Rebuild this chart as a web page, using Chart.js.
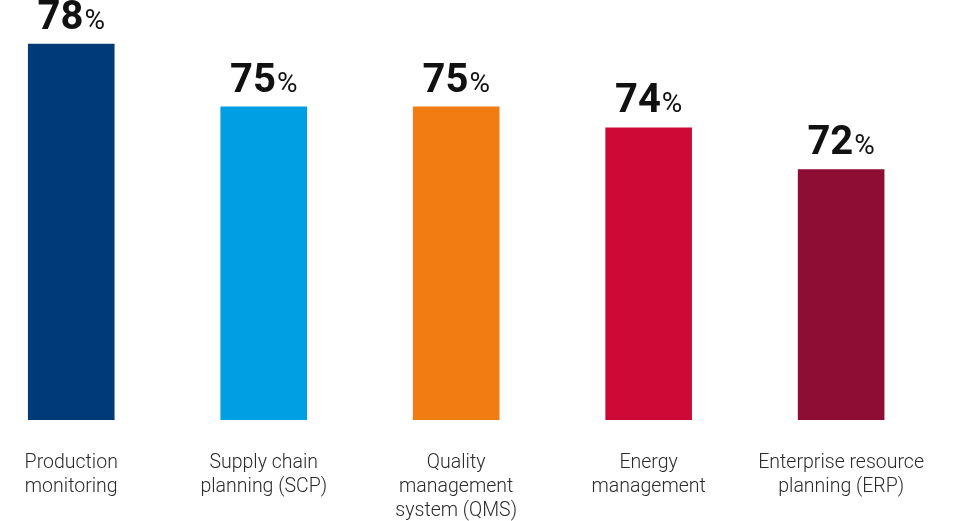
<!DOCTYPE html>
<html>
<head>
  <title>Share of respondents by system</title>
  <script src="https://cdn.jsdelivr.net/npm/chart.js"></script>
  <style>
    html, body {
      margin: 0;
      padding: 0;
      background-color: #fff;
      overflow: hidden;
    }

    .chart-box {
      position: absolute;
      left: -25px;
      top: 0;
      width: 980px;
      height: 521px;
    }
  </style>
</head>
<body>
  <div class="chart-box">
    <canvas id="systemsChart"></canvas>
  </div>

  <script>
    const categories = [
      ['Production', 'monitoring'],
      ['Supply chain', 'planning (SCP)'],
      ['Quality', 'management', 'system (QMS)'],
      ['Energy', 'management'],
      ['Enterprise resource', 'planning (ERP)']
    ];
    const shares = [78, 75, 75, 74, 72];
    const barColors = ['#003b78', '#009fe3', '#f07c12', '#cd0a36', '#8d0d34'];

    // draws the big "78%" labels above each bar
    const valueLabels = {
      id: 'valueLabels',
      afterDatasetsDraw(chart) {
        const ctx = chart.ctx;
        const meta = chart.getDatasetMeta(0);
        ctx.save();
        ctx.fillStyle = '#111';
        ctx.textBaseline = 'alphabetic';
        ctx.textAlign = 'left';
        meta.data.forEach((bar, i) => {
          const num = String(shares[i]);
          ctx.font = 'bold 40px Roboto';
          const w1 = ctx.measureText(num).width;
          ctx.font = '400 28px Roboto';
          const w2 = ctx.measureText('%').width;
          const x = bar.x - (w1 + w2 + 1) / 2;
          const y = bar.y - 15;
          ctx.font = 'bold 40px Roboto';
          ctx.fillText(num, x, y);
          ctx.font = '400 28px Roboto';
          ctx.fillText('%', x + w1 + 1, y);
        });
        ctx.restore();
      }
    };

    const ctx = document.getElementById('systemsChart').getContext('2d');
    const chart = new Chart(ctx, {
      type: 'bar',
      data: {
        labels: categories,
        datasets: [{
          data: shares,
          backgroundColor: barColors,
          barPercentage: 0.9,
          categoryPercentage: 0.5
        }]
      },
      options: {
        responsive: true,
        maintainAspectRatio: false,
        animation: false,
        layout: { padding: { top: 2, left: 0, right: 0, bottom: 0 } },
        plugins: {
          legend: { display: false },
          tooltip: { enabled: false }
        },
        scales: {
          x: {
            grid: { display: false, drawTicks: false },
            border: { display: false },
            ticks: {
              autoSkip: false,
              maxRotation: 0,
              padding: 31,
              color: '#2a2a2a',
              font: { family: 'Roboto', size: 19.5, weight: '300', lineHeight: 1.23 }
            },
            afterFit(scale) {
              scale.height = 101;
            }
          },
          y: {
            display: false,
            min: 60,
            max: 80
          }
        }
      },
      plugins: [valueLabels]
    });
  </script>
</body>
</html>
